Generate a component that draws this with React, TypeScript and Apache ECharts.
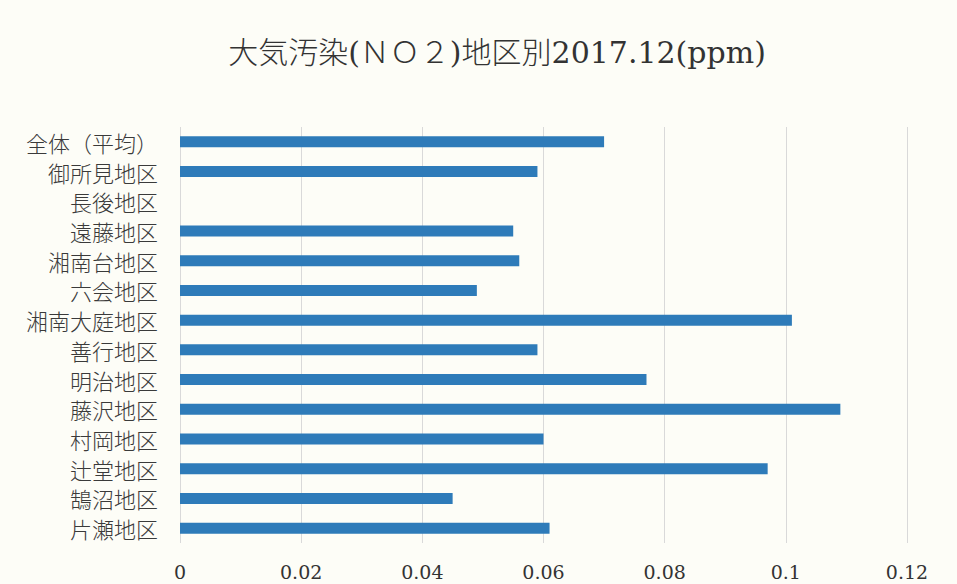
import React, { useEffect, useRef } from "react";
import * as echarts from "echarts";

const titleText = "大気汚染(ＮＯ２)地区別2017.12(ppm)";
const categories = [
  "全体（平均）",
  "御所見地区",
  "長後地区",
  "遠藤地区",
  "湘南台地区",
  "六会地区",
  "湘南大庭地区",
  "善行地区",
  "明治地区",
  "藤沢地区",
  "村岡地区",
  "辻堂地区",
  "鵠沼地区",
  "片瀬地区",
];
const values: (number | null)[] = [
  0.070, 0.059, null, 0.055, 0.056, 0.049, 0.101, 0.059, 0.077, 0.109, 0.060, 0.097, 0.045, 0.061,
];
const xMin = 0;
const xMax = 0.12;
const xInterval = 0.02;

const FONT = "'DejaVu Serif', 'Noto Sans CJK JP', serif";

export default function App() {
  const ref = useRef<HTMLDivElement>(null);
  useEffect(() => {
    if (!ref.current) return;
    const chart = echarts.init(ref.current, undefined, { renderer: "svg" });
    chart.setOption({
      animation: false,
      backgroundColor: "#fdfdf7",
      title: {
        text: titleText,
        left: 492,
        textAlign: "center",
        top: 32,
        textStyle: { fontFamily: FONT, fontSize: 30, fontWeight: 300, color: "#333" },
      },
      grid: { left: 180, right: 50, top: 127, bottom: 41, containLabel: false },
      xAxis: {
        type: "value",
        min: xMin,
        max: xMax,
        interval: xInterval,
        axisLine: { show: false },
        axisTick: { show: false },
        splitLine: { show: true, lineStyle: { color: "#d9d9d9", width: 1 } },
        axisLabel: {
          margin: 19,
          fontFamily: FONT,
          fontSize: 19,
          lineHeight: 20,
          color: "#333",
          formatter: (v: number) => String(Math.round(v * 100) / 100),
        },
      },
      yAxis: {
        type: "category",
        data: categories,
        inverse: true,
        axisLine: { show: false },
        axisTick: { show: false },
        axisLabel: {
          interval: 0,
          margin: 22,
          fontFamily: "'Noto Sans CJK JP', sans-serif",
          fontSize: 22,
          lineHeight: 22,
          padding: [0, 0, 5, 0],
          fontWeight: 300,
          color: "#3a3a3a",
        },
      },
      series: [
        {
          type: "bar",
          data: values,
          barWidth: 11,
          itemStyle: { color: "#2e7bb9" },
        },
      ],
    });
    return () => chart.dispose();
  }, []);
  return (
    <div
      ref={ref}
      style={{ position: "fixed", left: 0, top: 0, width: 957, height: 584 }}
    />
  );
}
